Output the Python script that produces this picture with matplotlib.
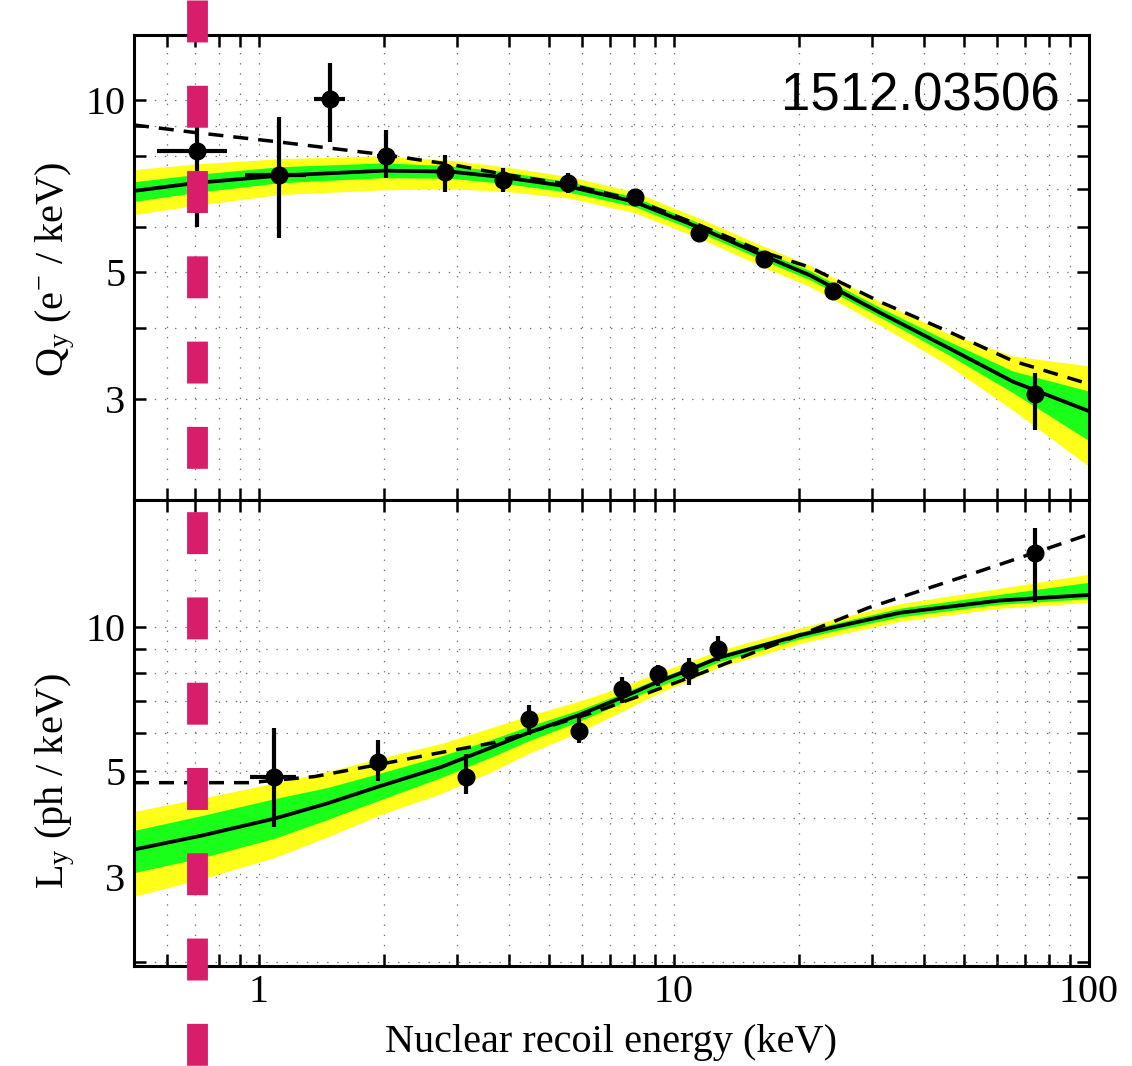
import matplotlib

matplotlib.use("Agg")
import matplotlib.pyplot as plt
import matplotlib.transforms as mtransforms
from matplotlib.lines import Line2D
from matplotlib.ticker import FixedLocator, FixedFormatter, FuncFormatter, LogLocator, NullFormatter
import numpy as np


# ---- charge yield (top panel) ----
QY_X = [0.71, 1.12, 1.48, 2.02, 2.80, 3.88, 5.56, 8.06, 11.5, 16.5, 24.2, 74.2]
QY_Y = [8.15, 7.41, 10.05, 8.00, 7.49, 7.26, 7.17, 6.78, 5.87, 5.27, 4.64, 3.07]
QY_YLO = [6.01, 5.75, 8.45, 7.32, 6.90, 6.90, 6.88, 6.78, 5.87, 5.27, 4.64, 2.65]
QY_YHI = [10.6, 9.34, 11.6, 8.87, 8.03, 7.60, 7.46, 6.78, 5.87, 5.27, 4.64, 3.33]
QY_XLO = [0.569, 0.925, 1.36, 1.92, 2.70, 3.88, 5.56, 8.06, 11.5, 16.5, 24.2, 74.2]
QY_XHI = [0.838, 1.30, 1.61, 2.13, 2.92, 3.88, 5.56, 8.06, 11.5, 16.5, 24.2, 74.2]

QY_CURVE_X = [0.5, 0.71, 1.12, 2.0, 2.9, 3.9, 5.6, 8.0, 11.5, 16.5, 21.3, 31.4, 45.5, 65.6, 100]
QY_FIT = [6.94, 7.17, 7.38, 7.53, 7.50, 7.33, 7.06, 6.65, 5.99, 5.34, 4.94, 4.25, 3.70, 3.22, 2.86]
QY_NEST = [9.05, 8.77, 8.45, 8.03, 7.72, 7.42, 7.12, 6.70, 6.05, 5.42, 5.10, 4.44, 3.95, 3.50, 3.19]
QY_HI2 = [7.56, 7.74, 7.90, 7.99, 7.85, 7.65, 7.35, 6.92, 6.22, 5.55, 5.14, 4.44, 3.92, 3.57, 3.43]
QY_HI1 = [7.20, 7.42, 7.65, 7.77, 7.68, 7.50, 7.20, 6.78, 6.10, 5.44, 5.03, 4.34, 3.80, 3.36, 3.10]
QY_LO1 = [6.65, 6.90, 7.17, 7.32, 7.30, 7.15, 6.90, 6.52, 5.88, 5.24, 4.85, 4.17, 3.60, 3.08, 2.54]
QY_LO2 = [6.31, 6.55, 6.84, 6.97, 7.00, 6.93, 6.74, 6.36, 5.74, 5.10, 4.72, 4.04, 3.45, 2.87, 2.29]

# ---- light yield (bottom panel) ----
LY_X = [1.09, 1.94, 3.15, 4.48, 5.91, 7.50, 9.15, 10.9, 12.8, 74.2]
LY_Y = [4.87, 5.23, 4.87, 6.43, 6.07, 7.43, 7.98, 8.14, 9.00, 14.26]
LY_YLO = [3.83, 4.76, 4.49, 5.96, 5.71, 6.95, 7.53, 7.57, 8.50, 11.27]
LY_YHI = [6.16, 5.81, 5.44, 6.88, 6.50, 7.87, 8.34, 8.62, 9.58, 16.1]
LY_XLO = [0.95, 1.86, 3.03, 4.48, 5.91, 7.50, 9.15, 10.9, 12.8, 74.2]
LY_XHI = [1.23, 2.02, 3.27, 4.48, 5.91, 7.50, 9.15, 10.9, 12.8, 74.2]

LY_CURVE_X = [0.5, 0.73, 1.09, 1.46, 1.94, 2.75, 3.63, 4.48, 5.91, 7.49, 9.15, 10.9, 12.8,
              20.2, 25.1, 35.0, 60.8, 100]
LY_FIT = [3.43, 3.67, 3.98, 4.28, 4.64, 5.10, 5.60, 6.02, 6.55, 7.12, 7.68, 8.14, 8.62,
          9.62, 10.05, 10.7, 11.35, 11.66]
LY_HI2 = [4.12, 4.39, 4.72, 4.99, 5.31, 5.71, 6.16, 6.53, 7.00, 7.49, 8.03, 8.47, 8.92,
          9.96, 10.45, 11.18, 12.03, 12.88]
LY_HI1 = [3.76, 4.04, 4.38, 4.62, 4.94, 5.38, 5.82, 6.21, 6.71, 7.26, 7.80, 8.26, 8.74,
          9.76, 10.23, 10.94, 11.69, 12.39]
LY_LO1 = [3.07, 3.30, 3.62, 3.96, 4.34, 4.85, 5.35, 5.79, 6.35, 6.94, 7.51, 7.96, 8.45,
          9.45, 9.87, 10.49, 11.15, 11.45]
LY_LO2 = [2.74, 2.98, 3.30, 3.64, 4.04, 4.49, 4.98, 5.45, 6.03, 6.66, 7.26, 7.73, 8.23,
          9.24, 9.65, 10.27, 10.93, 11.25]

LY_NEST_X = [0.5, 0.95, 1.36, 1.94, 2.75, 3.68, 5.0, 6.57, 8.8, 11.7, 15.5, 21.0, 29.3, 50.8, 86.7, 100]
LY_NEST = [4.73, 4.73, 4.87, 5.16, 5.47, 5.73, 6.20, 6.68, 7.32, 8.02, 8.83, 9.76, 10.95, 12.8, 14.96, 15.6]

THRESHOLD = 0.71
Y_MAJOR = [3, 5, 10]
Y_MINOR = [2, 4, 6, 7, 8, 9]

YELLOW = "#ffff1a"
GREEN = "#1aff1a"
MAGENTA = "#d81e6b"

plt.rcParams["font.family"] = ["Liberation Serif", "DejaVu Serif"]
plt.rcParams["mathtext.fontset"] = "custom"
plt.rcParams["mathtext.rm"] = "Liberation Serif"
plt.rcParams["mathtext.it"] = "Liberation Serif:italic"
plt.rcParams["lines.scale_dashes"] = False


def style_axis(ax, ylim, ylabel, label_y):
    ax.set_xscale("log")
    ax.set_yscale("log")
    ax.set_xlim(0.5, 100)
    ax.set_ylim(*ylim)
    ax.yaxis.set_major_locator(FixedLocator(Y_MAJOR))
    ax.yaxis.set_major_formatter(FixedFormatter([str(v) for v in Y_MAJOR]))
    ax.yaxis.set_minor_locator(FixedLocator(Y_MINOR))
    ax.yaxis.set_minor_formatter(NullFormatter())
    ax.xaxis.set_major_locator(LogLocator(base=10))
    ax.xaxis.set_minor_locator(LogLocator(base=10, subs=range(2, 10)))
    ax.xaxis.set_major_formatter(FuncFormatter(lambda v, _: f"{v:g}"))
    ax.xaxis.set_minor_formatter(NullFormatter())
    ax.tick_params(which="both", direction="in", length=8.6, width=1.8,
                   top=True, right=True, labelsize=29, pad=6)
    ax.grid(which="both", linestyle=(0, (1.0, 6.3)), color="0.45", lw=0.9)
    ax.set_axisbelow(True)
    for s in ax.spines.values():
        s.set_linewidth(2.2)
    ax.set_ylabel(ylabel, fontsize=29)
    ax.yaxis.set_label_coords(-0.06, label_y)


def draw_panel(ax, cx, fit, lo2, lo1, hi1, hi2, nx, nest, px, py, ylo, yhi, xlo, xhi):
    ax.fill_between(cx, lo2, hi2, color=YELLOW, lw=0, zorder=1)
    ax.fill_between(cx, lo1, hi1, color=GREEN, lw=0, zorder=1.1)
    ax.plot(cx, fit, color="k", lw=2.7, zorder=3)
    ax.plot(nx, nest, color="k", lw=2.5, linestyle=(0, (10.8, 7.2)), zorder=3)
    px = np.array(px)
    py = np.array(py)
    yerr = [py - np.array(ylo), np.array(yhi) - py]
    xerr = [px - np.array(xlo), np.array(xhi) - px]
    ax.errorbar(px, py, yerr=yerr, xerr=xerr, fmt="o", color="k", ms=12,
                elinewidth=3, capsize=0, zorder=5)


fig = plt.figure(figsize=(11.32, 10.66), dpi=100)
ax_q = fig.add_axes([0.11837, 0.53096, 0.84364, 0.43621])
ax_l = fig.add_axes([0.11837, 0.09381, 0.84364, 0.43715])

draw_panel(ax_q, QY_CURVE_X, QY_FIT, QY_LO2, QY_LO1, QY_HI1, QY_HI2,
           QY_CURVE_X, QY_NEST, QY_X, QY_Y, QY_YLO, QY_YHI, QY_XLO, QY_XHI)
draw_panel(ax_l, LY_CURVE_X, LY_FIT, LY_LO2, LY_LO1, LY_HI1, LY_HI2,
           LY_NEST_X, LY_NEST, LY_X, LY_Y, LY_YLO, LY_YHI, LY_XLO, LY_XHI)

style_axis(ax_q, (2.0, 13.0), r"Q$_\mathregular{y}$ (e$^{-}$ / keV)", 0.495)
style_axis(ax_l, (1.96, 18.4), r"L$_\mathregular{y}$ (ph / keV)", 0.397)
ax_q.tick_params(labelbottom=False)
ax_l.set_xlabel("Nuclear recoil energy (keV)", fontsize=29, labelpad=9)

ax_q.text(0.9696, 0.8387, "1512.03506", transform=ax_q.transAxes, ha="right",
          va="baseline", fontsize=38, family="Liberation Sans")

# threshold marker spanning the whole figure height
trans = mtransforms.blended_transform_factory(ax_l.transData, fig.transFigure)
fig.add_artist(Line2D([THRESHOLD, THRESHOLD], [1, 0], transform=trans, color=MAGENTA,
                      lw=15, linestyle=(0, (30.2, 31.2)), dash_capstyle="butt",
                      zorder=10))

fig.savefig("out.png", dpi=100)
